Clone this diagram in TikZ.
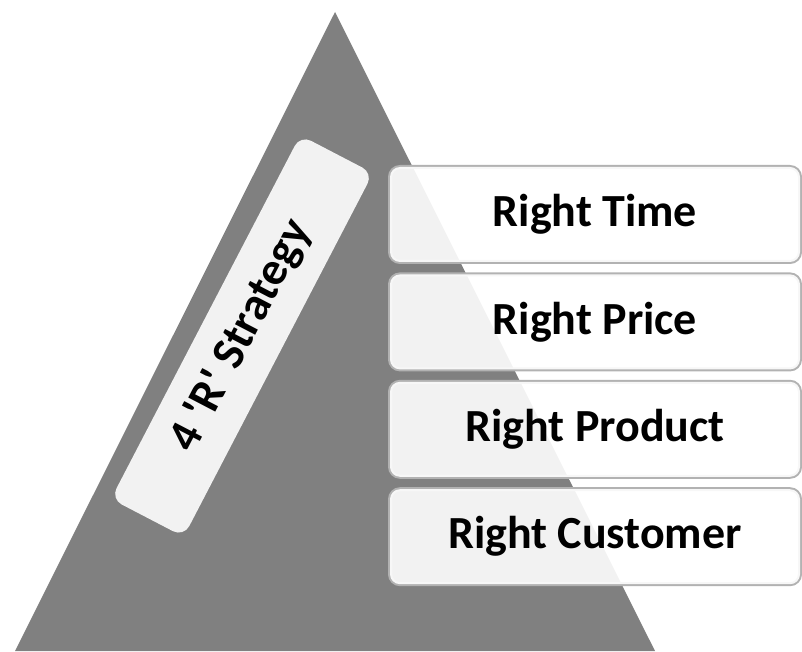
\documentclass[tikz,border=0pt]{standalone}
\usepackage{fontspec}
\setmainfont{Carlito}
\usetikzlibrary{positioning}
\definecolor{pyramid}{HTML}{808080}
\definecolor{tagfill}{HTML}{F2F2F2}
\tikzset{
    x=1pt,
    y=1pt,
    node distance=12pt,
    block/.style = {
        shape=rectangle,
        rounded corners=10pt,
        fill=white,
        fill opacity=0.9,
        text opacity=1,
        preaction={draw=gray!60, line width=4pt},
        minimum height=95pt,
        minimum width=410pt,
        font=\bfseries\fontsize{46}{55}\selectfont
    },
    tag/.style = {
        shape=rectangle,
        rounded corners=12pt,
        fill=tagfill,
        minimum height=82pt,
        minimum width=410pt,
        rotate=62.5,
        font=\bfseries\fontsize{47}{56}\selectfont
    },
}

\begin{document}
\begin{tikzpicture}
    \useasboundingbox (0,0) rectangle (802,651);

    \coordinate (apex) at (335,639);
    \coordinate (baseleft) at (15,0);
    \coordinate (baseright) at (655,0);
    \fill[pyramid] (apex) -- (baseright) -- (baseleft) -- cycle;

    \node[tag] (strategy) at (242,315) {4 \textquotesingle R\textquotesingle{} Strategy};

    \node[block] (time) at (595,436.5) {Right Time};
    \node[block, below=of time] (price) {Right Price};
    \node[block, below=of price] (product) {Right Product};
    \node[block, below=of product] (customer) {Right Customer};
\end{tikzpicture}
\end{document}
